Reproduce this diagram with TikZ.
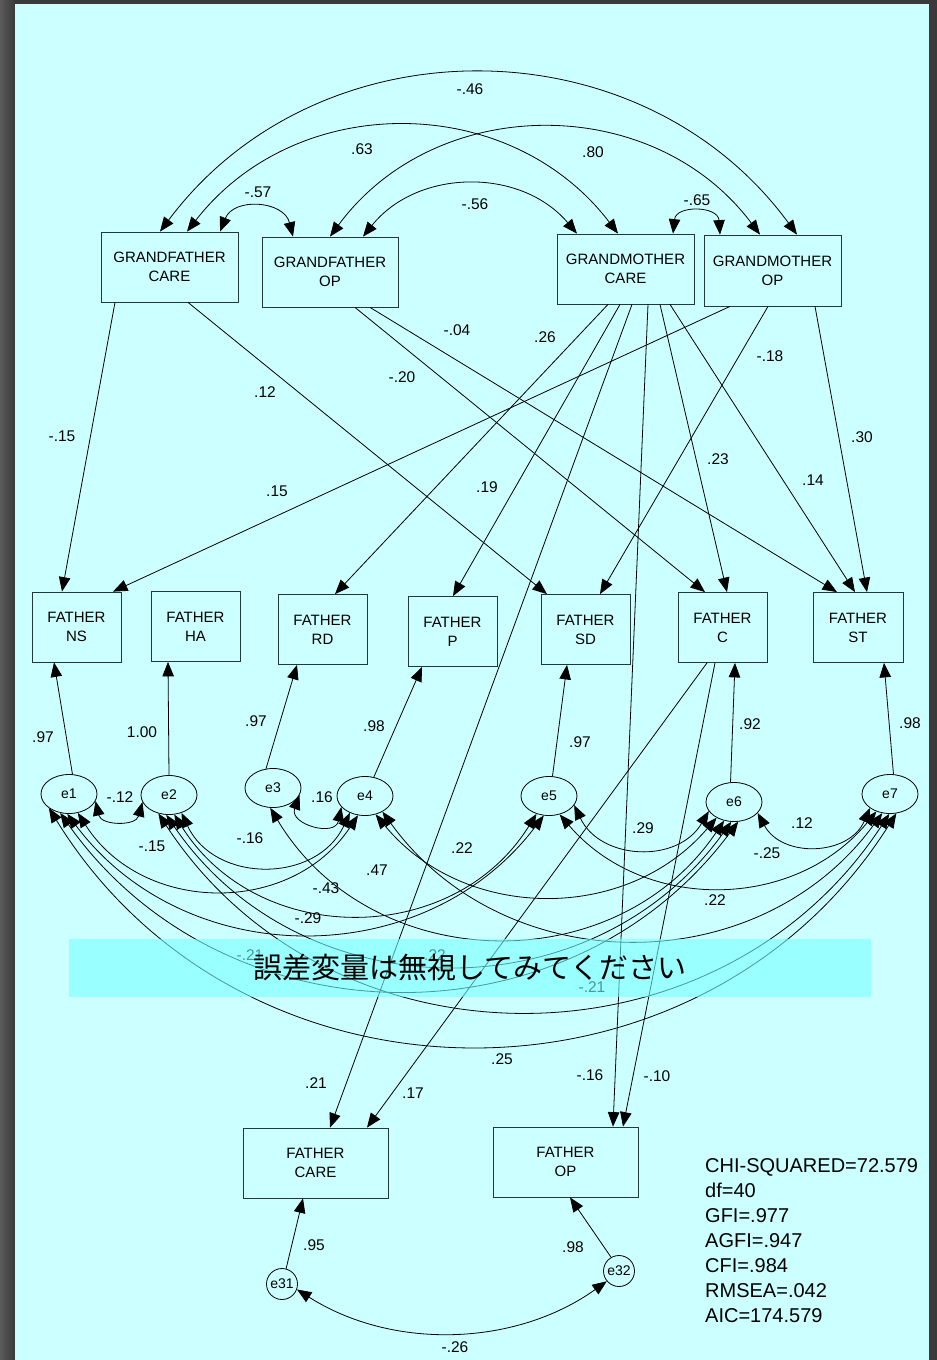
\documentclass[tikz,border=0pt]{standalone}
\usepackage{fontspec}
\setmainfont{Liberation Sans}
\newfontfamily\cjkfont{Noto Sans CJK JP}
\usetikzlibrary{arrows.meta,shapes.geometric}
\definecolor{bgc}{HTML}{CCFFFF}
\definecolor{framec}{HTML}{3A3A3A}
\definecolor{framel}{HTML}{5A5A5A}
\definecolor{bannerc}{RGB}{119,255,255}
\definecolor{boxc}{HTML}{243838}
\newcommand\fsz[1]{\fontsize{#1}{#1}\selectfont}
\begin{document}
\begin{tikzpicture}[x=1pt,y=1pt,
  >={Triangle[length=14.5pt,width=11.5pt]},
  box/.style={draw=boxc, line width=0.8pt, minimum width=137pt, minimum height=70pt, inner sep=0pt, align=center, font=\fontsize{15}{19}\selectfont},
  fbox/.style={box, minimum width=89pt},
  bbox/.style={box, minimum width=145pt},
  ell/.style={draw, line width=0.8pt, ellipse, minimum width=56pt, minimum height=39pt, inner sep=0pt, font=\fsz{14}},
  circ/.style={draw, line width=0.8pt, circle, minimum size=31pt, inner sep=0pt, font=\fsz{14}},
  pth/.style={draw, line width=0.8pt, ->},
  cv/.style={draw, line width=0.8pt, <->},
  lab/.style={inner sep=0pt, font=\fsz{15.5}},
  stat/.style={inner sep=0pt, anchor=north west, align=left, font=\fontsize{20}{25}\selectfont}]
\useasboundingbox (0,0) rectangle (937,-1360);
% frame and background
\fill[framec] (0,0) rectangle (937,-1360);
\shade[left color=framel, right color=framec] (0,0) rectangle (15,-1360);
\fill[bgc] (15,-4) rectangle (929,-1360);

% boxes
\node[box] (gfc) at (169.5,-267) {GRANDFATHER\\CARE};
\node[box, minimum width=136pt] (gfop) at (330,-272) {GRANDFATHER\\OP};
\node[box] (gmc) at (625.5,-269) {GRANDMOTHER\\CARE};
\node[box, minimum height=71pt] (gmop) at (772.5,-270.5) {GRANDMOTHER\\OP};
\node[fbox] (fns) at (76.5,-627) {FATHER\\NS};
\node[fbox] (fha) at (195.5,-626.5) {FATHER\\HA};
\node[fbox] (frd) at (322.5,-629.5) {FATHER\\RD};
\node[fbox] (fp) at (452.5,-631.5) {FATHER\\P};
\node[fbox] (fsd) at (585.5,-629.5) {FATHER\\SD};
\node[fbox] (fc) at (722.5,-627.5) {FATHER\\C};
\node[fbox, minimum width=90pt] (fst) at (858,-627.5) {FATHER\\ST};
\node[bbox] (fcare) at (315.5,-1163) {FATHER\\CARE};
\node[bbox] (fop) at (565.5,-1162) {FATHER\\OP};

% error terms
\node[ell] (e1) at (69,-794) {e1};
\node[ell] (e2) at (169,-795) {e2};
\node[ell] (e3) at (273,-788) {e3};
\node[ell] (e4) at (365,-796) {e4};
\node[ell] (e5) at (549,-796) {e5};
\node[ell] (e6) at (734,-802) {e6};
\node[ell] (e7) at (890,-794) {e7};
\node[circ] (e31) at (282,-1284) {e31};
\node[circ] (e32) at (619,-1271) {e32};

% paths from grandparents
\draw[pth] ([xshift=-54.5]gfc.south) -- ([xshift=-14.5]fns.north);
\draw[pth] ([xshift=18.5]gfc.south) -- ([xshift=-38.5]fsd.north);
\draw[pth] ([xshift=25]gfop.south) -- ([xshift=-17.5]fc.north);
\draw[pth] ([xshift=40]gfop.south) -- ([xshift=-21]fst.north);
\draw[pth] ([xshift=-17.5]gmc.south) -- ([xshift=12.5]frd.north);
\draw[pth] ([xshift=-5.5]gmc.south) -- ([xshift=0.5]fp.north);
\draw[pth] ([xshift=6.5]gmc.south) -- ([xshift=14.5]fcare.north);
\draw[pth] ([xshift=22.5]gmc.south) -- ([xshift=47.5]fop.north);
\draw[pth] ([xshift=34.5]gmc.south) -- ([xshift=4.5]fc.north);
\draw[pth] ([xshift=44.5]gmc.south) -- ([xshift=-3]fst.north);
\draw[pth] ([xshift=-42.5]gmop.south) -- ([xshift=36.5]fns.north);
\draw[pth] ([xshift=-4.5]gmop.south) -- ([xshift=14.5]fsd.north);
\draw[pth] ([xshift=42.5]gmop.south) -- ([xshift=9]fst.north);
\draw[pth] ([xshift=-15.5]fc.south) -- ([xshift=51.5]fcare.north);
\draw[pth] ([xshift=-7.5]fc.south) -- ([xshift=57.5]fop.north);

% error paths
\draw[pth] (e1.80) -- ([xshift=-22.5]fns.south);
\draw[pth] (e2.north) -- ([xshift=-27.5]fha.south);
\draw[pth] (e3.110) -- ([xshift=-25.5]frd.south);
\draw[pth] (e4.65) -- ([xshift=-30.5]fp.south);
\draw[pth] (e5.80) -- ([xshift=-18.5]fsd.south);
\draw[pth] (e6.100) -- ([xshift=12.5]fc.south);
\draw[pth] (e7.80) -- ([xshift=26]fst.south);
\draw[pth] (e31.75) -- ([xshift=-12.5]fcare.south);
\draw[pth] (e32.120) -- ([xshift=4.5]fop.south);

% covariances among grandparents
\draw[cv] ([xshift=50.5]gfc.north) to[bend left=72, looseness=1.30] ([xshift=-37]gfop.north);
\draw[cv] ([xshift=33]gfop.north) to[bend left=50.5, looseness=1.04] ([xshift=-48.5]gmc.north);
\draw[cv] ([xshift=47.5]gmc.north) to[bend left=85, looseness=1.57] ([xshift=-52.5]gmop.north);
\draw[cv] ([xshift=17.5]gfc.north) to[bend left=52.4, looseness=1.06] ([xshift=-7.5]gmc.north);
\draw[cv] (gfop.north) to[bend left=53.4, looseness=1.06] ([xshift=-12.5]gmop.north);
\draw[cv] ([xshift=-9.5]gfc.north) to[bend left=53.5, looseness=1.06] ([xshift=24.5]gmop.north);

% covariances among errors
\draw[cv] (e1.-15) to[bend right=76, looseness=1.37] (e2.195);
\draw[cv] (e3.-15) to[bend right=94, looseness=1.83] (e4.205);
\draw[cv] (e5.-20) to[bend right=62, looseness=1.16] (e6.200);
\draw[cv] (e6.-25) to[bend right=64, looseness=1.18] (e7.215);
\draw[cv] (e2.305) to[bend right=65, looseness=1.19] (e4.228);
\draw[cv] (e1.295) to[bend right=57, looseness=1.10] (e4.250);
\draw[cv] (e2.285) to[bend right=58, looseness=1.11] (e5.235);
\draw[cv] (e1.265) to[bend right=53, looseness=1.06] (e5.255);
\draw[cv] (e3.262) to[bend right=57.5, looseness=1.10] (e6.242);
\draw[cv] (e4.300) to[bend right=50, looseness=1.04] (e6.222);
\draw[cv] (e4.318) to[bend right=54, looseness=1.07] (e7.248);
\draw[cv] (e5.300) to[bend right=50, looseness=1.04] (e7.232);
\draw[cv] (e1.245) to[bend right=54, looseness=1.07] (e6.282);
\draw[cv] (e2.262) to[bend right=55, looseness=1.08] (e6.262);
\draw[cv] (e2.240) to[bend right=56.8, looseness=1.10] (e7.268);
\draw[cv] (e1.215) to[bend right=58, looseness=1.11] (e7.288);
\draw[cv] (e31.-20) to[bend right=34, looseness=0.93] (e32.220);

% path labels
\node[lab] (l01) at (62,-436) {-.15};
\node[lab] (l02) at (265,-392) {.12};
\node[lab] (l03) at (402,-377) {-.20};
\node[lab] (l04) at (457,-330) {-.04};
\node[lab] (l05) at (545,-337) {.26};
\node[lab] (l06) at (487,-487) {.19};
\node[lab] (l07) at (277,-491) {.15};
\node[lab] (l08) at (770,-356) {-.18};
\node[lab] (l09) at (862,-437) {.30};
\node[lab] (l10) at (718,-459) {.23};
\node[lab] (l11) at (813,-480) {.14};
\node[lab] (l12) at (316,-1083) {.21};
\node[lab] (l13) at (413,-1093) {.17};
\node[lab] (l14) at (590,-1075) {-.16};
\node[lab] (l15) at (657,-1076) {-.10};
\node[lab] (l16) at (43,-737) {.97};
\node[lab] (l17) at (142,-732) {1.00};
\node[lab] (l18) at (256,-721) {.97};
\node[lab] (l19) at (374,-726) {.98};
\node[lab] (l20) at (580,-742) {.97};
\node[lab] (l21) at (750,-724) {.92};
\node[lab] (l22) at (910,-723) {.98};
\node[lab] (l23) at (314,-1245) {.95};
\node[lab] (l24) at (573,-1247) {.98};
% covariance labels
\node[lab] (c01) at (470,-89) {-.46};
\node[lab] (c02) at (362,-149) {.63};
\node[lab] (c03) at (593,-152) {.80};
\node[lab] (c04) at (258,-192) {-.57};
\node[lab] (c05) at (475,-204) {-.56};
\node[lab] (c06) at (697,-200) {-.65};
\node[lab] (c07) at (120,-797) {-.12};
\node[lab] (c08) at (322,-797) {.16};
\node[lab] (c09) at (643,-828) {.29};
\node[lab] (c10) at (802,-823) {.12};
\node[lab] (c11) at (152,-846) {-.15};
\node[lab] (c12) at (250,-838) {-.16};
\node[lab] (c13) at (326,-888) {-.43};
\node[lab] (c14) at (308,-918) {-.29};
\node[lab] (c15) at (377,-870) {.47};
\node[lab] (c16) at (462,-848) {.22};
\node[lab] (c17) at (767,-853) {-.25};
\node[lab] (c18) at (715,-900) {.22};
\node[lab] (c19) at (250,-955) {-.21};
\node[lab] (c20) at (435,-955) {.22};
\node[lab] (c21) at (592,-987) {-.21};
\node[lab] (c22) at (502,-1059) {.25};
\node[lab] (c23) at (455,-1347) {-.26};

% banner
\fill[bannerc, opacity=0.6] (69,-939) rectangle (871,-997);
\node[inner sep=0pt, font=\cjkfont\fsz{29}] (banner) at (470,-967) {誤差変量は無視してみてください};

% fit statistics
\node[stat] (stats) at (705,-1158.5) {CHI-SQUARED=72.579\\df=40\\GFI=.977\\AGFI=.947\\CFI=.984\\RMSEA=.042\\AIC=174.579};
\end{tikzpicture}
\end{document}
